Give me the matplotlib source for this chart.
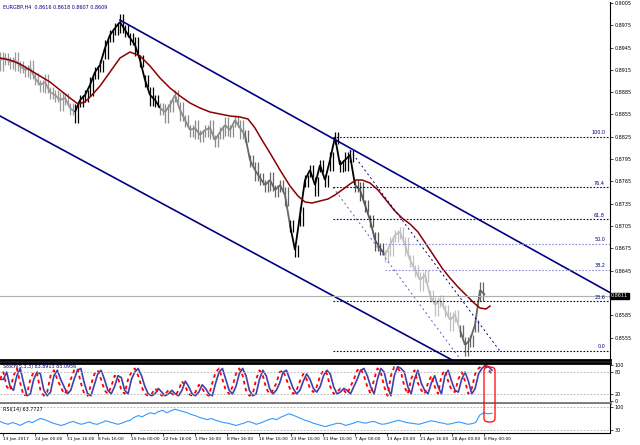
import matplotlib
matplotlib.use("Agg")
import matplotlib.pyplot as plt
from matplotlib.patches import FancyBboxPatch
import numpy as np

# ---- data ----
close_px = [60,58,62,60,66,70,68,78,85,82,92,95,100,98,108,112,100,95,85,72,65,48,35,28,22,30,38,45,60,80,
            95,100,108,112,105,95,110,120,130,128,135,130,128,140,132,125,130,120,128,135,160,170,178,185,180,
            190,185,195,225,250,215,180,170,185,165,180,160,137,165,160,155,185,190,205,220,240,248,255,245,235,
            232,245,260,270,280,275,295,305,300,310,320,315,330,345,340,325,290,295]
bar_x = list(range(0, 5*len(close_px), 5))
ma_x = [0,10,20,30,40,50,60,70,78,85,92,100,110,120,130,140,150,160,170,180,190,200,210,220,230,240,248,
        255,262,270,280,290,298,305,312,320,328,335,342,350,356,362,370,378,386,394,402,410,418,426,434,
        442,450,458,466,474,480,486,490]
ma_px = [58,60,64,70,76,82,90,98,104,102,95,86,72,58,52,56,66,78,88,96,103,108,112,114,116,117,119,
         128,140,153,170,186,196,202,203,201,199,195,190,184,180,180,183,190,200,210,218,224,232,244,256,
         268,278,287,295,303,308,309,306]
fib_levels = [0.8825,0.8757,0.8714,0.8681,0.8646,0.8604,0.8537]
fib_labels = ["100.0","76.4","61.8","50.0","38.2","23.6","0.0"]
price_ticks = [0.9005 - 0.003*k for k in range(16)]
last_price = 0.8611
stoch_k = [60,80,40,30,70,90,50,15,20,60,80,75,30,15,25,70,85,60,40,20,30,60,85,90,50,20,15,45,75,85,
           60,30,20,40,70,65,30,20,60,80,90,70,40,20,15,20,35,25,15,20,30,20,15,30,55,40,20,15,25,45,
           35,20,15,50,80,90,60,30,20,40,75,90,70,30,15,20,60,85,70,35,20,30,50,80,85,60,35,20,30,55,
           75,60,35,25,40,70,85,75,40,20,25,35,30,20,40,60,85,90,70,40,20,60,90,80,40,15,70,95,90,80,
           40,20,60,85,50,30,20,50,70,40,20,70,85,55,30,25,60,80,55,20,35,75,90,98,95,85,75]
stoch_d = [stoch_k[0]] + stoch_k[:-1]
rsi = [45,42,40,43,41,38,42,45,43,47,50,48,45,42,40,38,40,43,45,42,40,42,44,41,40,43,46,44,42,40,
       42,45,47,52,55,53,57,60,58,62,64,60,63,66,64,62,60,57,55,52,50,48,50,47,45,43,42,40,38,40,
       42,45,43,40,42,45,48,50,48,52,55,58,56,53,50,47,45,42,40,38,36,38,40,42,41,38,40,42,45,43,
       42,44,45,42,40,41,43,45,47,45,43,42,41,40,42,44,46,45,43,42,40,41,43,44,42,40,41,43,56,60,58,59]
date_labels = ["13 Jan 2017","24 Jan 00:00","31 Jan 16:00","8 Feb 16:00","15 Feb 00:00","22 Feb 16:00",
               "1 Mar 16:00","8 Mar 16:00","16 Mar 16:00","23 Mar 16:00","31 Mar 16:00","7 Apr 00:00",
               "13 Apr 00:00","21 Apr 16:00","28 Apr 00:00","8 May 00:00"]
date_pos = [3,35,67,98,131,163,195,227,259,291,323,355,387,420,452,484]

P0, PS = 0.9009, 0.0001345
def px2p(v):
    return P0 - PS*np.asarray(v, float)
close = px2p(close_px)
ma = px2p(ma_px)

def bar_color(x):
    if x < 75: return "#999999"
    if x < 160: return "black"
    if x < 245: return "#8a8a8a"
    if x < 290: return "#666666"
    if x < 355: return "black"
    if x < 385: return "#555555"
    if x < 460: return "#c0c0c0"
    return "#666666"

fig = plt.figure(figsize=(6.4, 4.45), dpi=100)
W = 610/640
ax = fig.add_axes([0, 1-360/445, W, 358/445])
ax.set_xlim(0, 610)
ax.set_ylim(px2p(360), px2p(2))
for i in range(len(bar_x)-1):
    c = bar_color(bar_x[i])
    ax.plot(bar_x[i:i+2], close[i:i+2], color=c, lw=1.3, solid_capstyle="butt")
    span = 0.0009 if i % 3 else 0.0015
    ax.vlines([bar_x[i], bar_x[i]+2.5], close[i]-span, close[i]+span*0.7, color=c, lw=0.9)
ax.plot(ma_x, ma, color="#8b0000", lw=1.1)
# channels
ax.plot([120, 640], [0.8982, 0.8982-520*7.48e-5], color="#000080", lw=1.2)
ax.plot([0, 640], [0.8853, 0.8853-640*7.26e-5], color="#000080", lw=1.2)
ax.plot([350, 500], [0.8807, 0.8807-150*1.34*PS], color="#000080", lw=0.7, ls=(0,(2,3)))
ax.plot([333, 500], [0.8757, 0.8757-167*1.35*PS], color="#6060c0", lw=0.7, ls=(0,(2,3)))
for lv, lb in zip(fib_levels, fib_labels):
    col = "#9090d0" if lb in ("50.0","38.2") else "#000080"
    ax.plot([385 if lb in ("50.0","38.2") else 333, 610], [lv, lv], color=col, lw=0.8, ls=(0,(1.5,1.5)))
    ax.text(605, lv+0.0002, lb, fontsize=3.5, color="#000080", ha="right", va="bottom")
ax.axhline(last_price, color="#b0b0b0", lw=0.8)
ax.text(3, P0-PS*7, "EURGBP,H4  0.8616 0.8618 0.8607 0.8609", fontsize=3.5, color="#000080", va="center")
ax.yaxis.tick_right()
shown = [t for t in price_ticks if abs(t-last_price) > 0.0008]
ax.set_yticks(shown)
ax.set_yticklabels([f"{t:.4f}" for t in shown], fontsize=3.5)
ax.tick_params(axis="y", length=2, width=0.5, pad=1)
ax.set_xticks([])
ax.text(611, last_price, f"{last_price:.4f}", fontsize=3.5, color="white", va="center",
        bbox=dict(boxstyle="square,pad=0.15", fc="black", ec="black"), transform=ax.transData, clip_on=False)
for s in ["top","left"]:
    ax.spines[s].set_visible(False)
ax.spines["bottom"].set_linewidth(2)

# stochastic
ax2 = fig.add_axes([0, 1-403/445, W, 40/445])
sx = np.linspace(0, 492, len(stoch_k))
ax2.plot(sx, stoch_d, color="#4040b0", lw=1.2)
ax2.plot(sx, stoch_k, color="red", lw=1.3, ls=(0,(2,2)))
ax2.axhline(80, color="#aaaaaa", lw=0.6, ls=(0,(2,2)))
ax2.axhline(20, color="#aaaaaa", lw=0.6, ls=(0,(2,2)))
ax2.set_xlim(0, 610); ax2.set_ylim(-5, 105)
ax2.yaxis.tick_right(); ax2.set_yticks([100,80,20,0])
ax2.set_yticklabels(["100","80","20","0"], fontsize=3.5)
ax2.tick_params(axis="y", length=2, width=0.5, pad=1)
ax2.set_xticks([])
ax2.text(3, 95, "Stoch(5,3,3) 83.8913 85.0956", fontsize=3.5, color="#000080", va="center")
for s in ["top","bottom"]:
    ax2.spines[s].set_linewidth(2)
ax2.spines["bottom"].set_color("#777777")
ax2.spines["left"].set_visible(False)

# RSI
ax3 = fig.add_axes([0, 1-433/445, W, 29/445])
rx = np.linspace(0, 492, len(rsi))
ax3.plot(rx, rsi, color="#3399ff", lw=0.8)
ax3.axhline(70, color="#aaaaaa", lw=0.6, ls=(0,(2,2)))
ax3.plot([140, 610], [30, 30], color="#aaaaaa", lw=0.6, ls=(0,(2,2)))
ax3.set_xlim(0, 610); ax3.set_ylim(25, 75)
ax3.yaxis.tick_right(); ax3.set_yticks([70,30])
ax3.set_yticklabels(["100","30"], fontsize=3.5)
ax3.tick_params(axis="y", length=2, width=0.5, pad=1)
ax3.set_xticks(date_pos)
ax3.set_xticklabels(date_labels, fontsize=3.2, ha="left")
ax3.tick_params(axis="x", length=2, width=0.5, pad=1)
ax3.text(3, 66, "RSI(14) 63.7727", fontsize=3.5, color="black", va="center")
ax3.spines["top"].set_visible(False); ax3.spines["left"].set_visible(False)

# red highlight box
box = FancyBboxPatch((484/640, 1-422/445), 11/640, 55/445, boxstyle="round,pad=0,rounding_size=0.008",
                     transform=fig.transFigure, fill=False, ec="red", lw=0.9)
fig.patches.append(box)
fig.savefig("out.png", dpi=100)
